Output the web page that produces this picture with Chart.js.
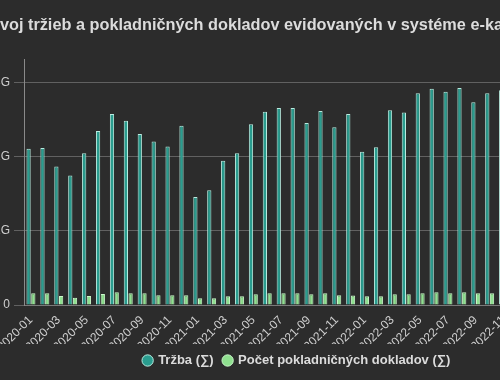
<!DOCTYPE html>
<html><head><meta charset="utf-8">
<script src="https://cdn.jsdelivr.net/npm/chart.js@4.4.1/dist/chart.umd.min.js"></script>
<style>
html,body{margin:0;padding:0;background:#2c2c2c;overflow:hidden;width:500px;height:380px;}
#wrap{position:absolute;left:-20px;top:0;width:634px;height:380px;}
</style></head><body>
<div id="wrap"><canvas id="c"></canvas></div>
<script>
const months = ["2020-01","2020-02","2020-03","2020-04","2020-05","2020-06","2020-07","2020-08","2020-09","2020-10","2020-11","2020-12",
"2021-01","2021-02","2021-03","2021-04","2021-05","2021-06","2021-07","2021-08","2021-09","2021-10","2021-11","2021-12",
"2022-01","2022-02","2022-03","2022-04","2022-05","2022-06","2022-07","2022-08","2022-09","2022-10","2022-11","2022-12"];
const trzba = [2.11e9,2.12e9,1.87e9,1.75e9,2.05e9,2.35e9,2.58e9,2.49e9,2.31e9,2.21e9,2.14e9,2.42e9,
1.46e9,1.55e9,1.95e9,2.05e9,2.44e9,2.61e9,2.66e9,2.66e9,2.46e9,2.62e9,2.40e9,2.58e9,
2.07e9,2.13e9,2.63e9,2.60e9,2.86e9,2.92e9,2.88e9,2.93e9,2.74e9,2.86e9,2.90e9,3.20e9];
const pocet = [0.158e9,0.158e9,0.122e9,0.099e9,0.122e9,0.150e9,0.171e9,0.159e9,0.159e9,0.132e9,0.132e9,0.132e9,
0.091e9,0.091e9,0.118e9,0.118e9,0.146e9,0.159e9,0.159e9,0.159e9,0.146e9,0.159e9,0.132e9,0.127e9,
0.118e9,0.118e9,0.146e9,0.146e9,0.159e9,0.173e9,0.159e9,0.173e9,0.159e9,0.159e9,0.160e9,0.180e9];
const titleText = "Vývoj tržieb a pokladničných dokladov evidovaných v systéme e-kasa";
const seriesNames = ["Tržba (∑)", "Počet pokladničných dokladov (∑)"];
const yTickValues = [0, 1e9, 2e9, 3e9];
const yTickLabels = ["0", "1G", "2G", "3G"];
const yMax = 3.31e9;

const FAM = "'Liberation Sans', Arial, sans-serif";
new Chart(document.getElementById('c'), {
  type: 'bar',
  data: {
    labels: months,
    datasets: [
      {label: seriesNames[0], data: trzba, backgroundColor: '#2a9d8f', borderColor: '#b9ece0', borderWidth: 1, yAxisID: 'y'},
      {label: seriesNames[1], data: pocet, backgroundColor: '#8fe08f', borderColor: '#c9f7c9', borderWidth: 1, yAxisID: 'y'}
    ]
  },
  options: {
    responsive: true,
    maintainAspectRatio: false,
    animation: false,
    layout: {padding: {bottom: 3}},
    datasets: {bar: {barPercentage: 0.9, categoryPercentage: 0.68}},
    plugins: {
      title: {display: true, text: titleText, align: 'start', color: '#dcdcdc',
        font: {family: FAM, size: 16.3, weight: 'bold'}, padding: {top: 15.6, bottom: 24.8}},
      legend: {position: 'bottom', labels: {usePointStyle: true, pointStyle: 'circle', boxWidth: 8, boxHeight: 8,
        color: '#dcdcdc', padding: 10, font: {family: FAM, size: 13, weight: 'bold'}}},
      tooltip: {enabled: false}
    },
    scales: {
      x: {
        grid: {display: false},
        border: {display: true, color: '#7a7a7a'},
        ticks: {color: '#cfcfcf', font: {family: FAM, size: 12}, minRotation: 45, maxRotation: 45, autoSkip: false, padding: 0,
          callback: function(v, i) { return i % 2 === 0 ? this.getLabelForValue(v) : ''; }},
        afterFit: s => { s.height = 39; }
      },
      y: {
        min: 0, max: yMax, bounds: 'data',
        grid: {color: 'rgba(255,255,255,0.25)', tickLength: 10},
        border: {color: '#8a8a8a'},
        ticks: {color: '#cfcfcf', font: {family: FAM, size: 12}, padding: 4,
          callback: v => { const i = yTickValues.indexOf(v); return i >= 0 ? yTickLabels[i] : ''; }},
        afterBuildTicks: s => { s.ticks = yTickValues.map(v => ({value: v})); },
        afterFit: s => { s.width = 44; }
      },
      y2: {
        position: 'right', display: true,
        grid: {display: false}, border: {display: false}, ticks: {display: false},
        afterFit: s => { s.width = 89.6; }
      }
    }
  }
});
</script>
</body></html>
